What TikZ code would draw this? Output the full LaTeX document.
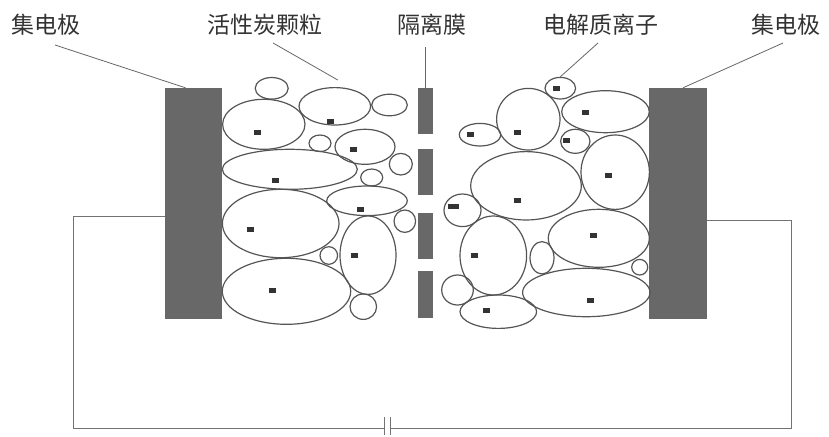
\documentclass[tikz,border=0pt]{standalone}
\usepackage{fontspec}
\newfontfamily\cjk{Noto Sans CJK SC}
\usetikzlibrary{shapes.geometric}
\definecolor{plategray}{HTML}{686868}
\definecolor{linegray}{HTML}{555555}
\tikzset{
	plate/.style={rectangle,fill=plategray,inner sep=0pt},
	grain/.style={ellipse,draw=linegray,line width=1.2pt,inner sep=0pt},
	ion/.style={rectangle,fill=black!80,minimum width=7pt,minimum height=5pt,inner sep=0pt},
	wire/.style={draw=black!55,line width=1pt},
	leader/.style={draw=black!60,line width=0.8pt},
	txt/.style={font=\cjk\fontsize{23}{23}\selectfont,text=black!80}
}

\begin{document}
\begin{tikzpicture}[x=1pt,y=-1pt]
	\useasboundingbox (0,0) rectangle (829,436);
	% current collectors and separator
	\node[plate,minimum width=57pt,minimum height=231pt] (eL) at (193.5,203.5) {};
	\node[plate,minimum width=58pt,minimum height=231pt] (eR) at (678,203.5) {};
	\foreach \y/\h [count=\i] in {111/46,172/46,236/46,294.5/47}
		\node[plate,minimum width=15pt,minimum height=\h pt] (s\i) at (425.5,\y) {};
	% carbon grains, left electrode
	\foreach \x/\y/\a/\b [count=\i] in {271.7/88.3/16.5/10.8, 334.8/106.3/35.8/18.7,
			389.5/105/17.8/10.8, 263.8/124.3/41.2/25, 320/143.3/11/8.3, 365/146.8/30/17.5,
			400.8/164.2/11.5/10.8, 289.8/169.3/67.5/20, 371.7/177.5/11/8.5,
			367/200.8/40.3/14.8, 404.8/221.2/10.8/11.2, 280.7/223.5/58.3/34.2,
			368/255.2/28/39.2, 328.8/255.5/8.8/8.8, 286.5/291.3/64.2/33, 363.3/306.7/13.3/12.7}
		\node[grain,minimum width={2*\a pt},minimum height={2*\b pt}] (l\i) at (\x,\y) {};
	% carbon grains, right electrode
	\foreach \x/\y/\a/\b [count=\i] in {560.3/88.2/15.3/10.8, 528.3/119.2/31.7/30.8,
			605.5/111.7/43.8/21, 480/134.7/20.7/11.3, 575.3/141.3/14.7/12,
			615.2/172.2/34.2/37.2, 526/185.8/55.3/34.2, 462.5/210.3/18.5/16.3,
			493.3/255.5/33.3/39.5, 598.8/238.3/50.5/29, 542/257.8/12/16.2,
			639.7/267.2/8/7.8, 457.5/290/15.8/15, 498.3/311.7/38.3/16.7, 586.3/292.5/63.7/24.2}
		\node[grain,minimum width={2*\a pt},minimum height={2*\b pt}] (r\i) at (\x,\y) {};
	% ions
	\foreach \x/\y [count=\i] in {330.7/121, 257.3/132.3, 353.3/149.3, 275.3/180,
			360/209.3, 250.7/229, 354/255, 272.3/290.7, 556.7/88.3, 517.7/132.7,
			585.7/112.3, 470/134.3, 566.7/140.7, 608.3/175, 517.7/200.7, 474.3/255,
			593.3/235.7, 486.7/310.7, 590.7/300}
		\node[ion] (d\i) at (\x,\y) {};
	\node[ion,minimum width=11pt] (d20) at (453.3,206.7) {};
	% labels
	\node[txt] (t1) at (46,25) {集电极};
	\node[txt] (t2) at (265,25) {活性炭颗粒};
	\node[txt] (t3) at (432,25) {隔离膜};
	\node[txt] (t4) at (601,25) {电解质离子};
	\node[txt] (t5) at (786,25) {集电极};
	\draw[leader] ([shift={(9,20)}]t1.center) -- ([xshift=-8pt]eL.north);
	\draw[leader] ([shift={(8,18)}]t2.center) -- ([shift={(3,-7)}]l2.north);
	\draw[leader] (s1.north) -- ++(0,-41);
	\draw[leader] ([shift={(-3,18)}]t4.center) -- (r1.north);
	\draw[leader] ([shift={(-3,18)}]t5.center) -- ([xshift=5pt]eR.north);
	% outer circuit
	\coordinate (capL) at (384,428);
	\coordinate (capR) at (390,428);
	\draw[wire] ([yshift=-12.5pt]eL.west) -| (73,428) -- (capL);
	\draw[wire] (capR) -| (791,220) -- ([yshift=-16.5pt]eR.east);
	\draw[wire] ([yshift=11pt]capL) -- ([yshift=-7pt]capL);
	\draw[wire] ([yshift=11pt]capR) -- ([yshift=-7pt]capR);
\end{tikzpicture}
\end{document}
